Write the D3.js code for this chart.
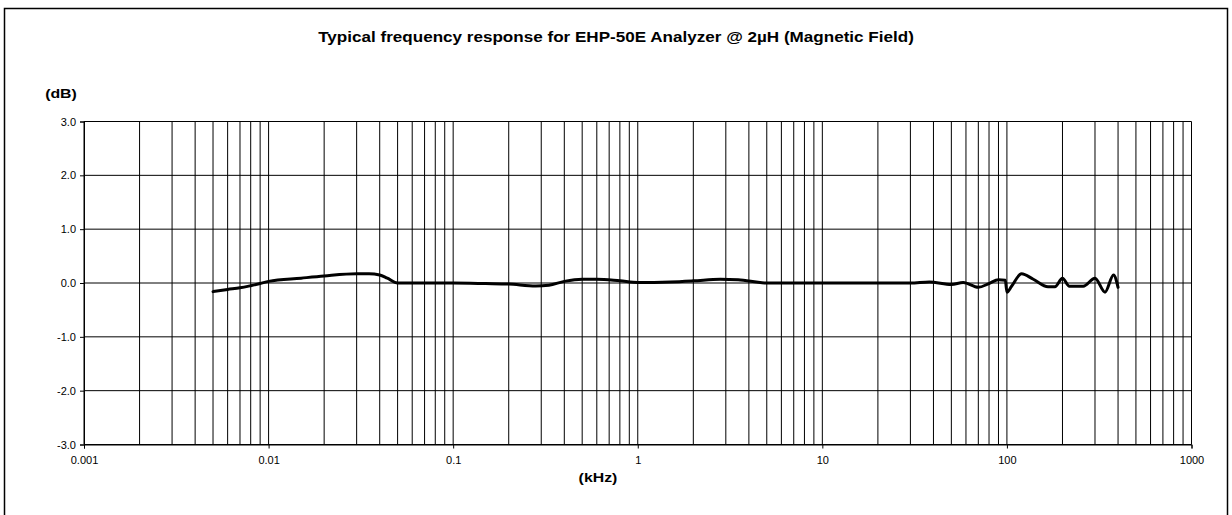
<!DOCTYPE html>
<html>
<head>
<meta charset="utf-8">
<script src="https://cdn.jsdelivr.net/npm/d3@7"></script>
<style>
  html, body { margin: 0; padding: 0; background: #fff; }
  svg { display: block; font-family: "Liberation Sans", Arial, sans-serif; }
</style>
</head>
<body>
<svg id="chart" width="1232" height="515"></svg>
<script>
// Frequency (kHz) and measured response (dB)
const freqKHz = [0.005, 0.006, 0.007, 0.008, 0.009, 0.01, 0.015, 0.02, 0.03, 0.035, 0.04, 0.044, 0.05,
  0.1, 0.15, 0.2, 0.28, 0.33, 0.4, 0.5, 0.6, 0.8, 1, 1.5, 2, 2.8, 3.5, 5,
  10, 20, 30, 38, 50, 58, 70, 80, 90, 98, 100, 106, 120, 139, 167, 182, 200, 218, 259, 300, 340, 378, 400];
const responseDb = [-0.16, -0.12, -0.09, -0.05, -0.01, 0.03, 0.09, 0.13, 0.17, 0.17, 0.15, 0.09, 0.0,
  0.0, -0.01, -0.02, -0.055, -0.04, 0.03, 0.07, 0.07, 0.04, 0.01, 0.02, 0.04, 0.07, 0.06, 0.0,
  0.0, 0.0, 0.0, 0.02, -0.03, 0.01, -0.08, -0.01, 0.06, 0.05, -0.17, -0.06, 0.17, 0.07, -0.07, -0.07, 0.09, -0.06, -0.06, 0.09, -0.17, 0.15, -0.08];

const xTickValues = [0.001, 0.01, 0.1, 1, 10, 100, 1000];
const xTickLabels = ["0.001", "0.01", "0.1", "1", "10", "100", "1000"];
const yTickValues = [-3, -2, -1, 0, 1, 2, 3];
const yTickLabels = ["-3.0", "-2.0", "-1.0", "0.0", "1.0", "2.0", "3.0"];

const titleText = "Typical frequency response for EHP-50E Analyzer @ 2µH (Magnetic Field)";
const yUnitText = "(dB)";
const xUnitText = "(kHz)";

const svg = d3.select("#chart");
const plotLeft = 84, plotRight = 1191.5, plotTop = 121.5, plotBottom = 444.5;

const x = d3.scaleLog().domain([0.001, 1000]).range([plotLeft, plotRight]);
const y = d3.scaleLinear().domain([-3, 3]).range([plotBottom, plotTop]);

// outer frame
svg.append("rect")
  .attr("x", 4.5).attr("y", 8.5)
  .attr("width", 1223).attr("height", 520)
  .attr("fill", "none").attr("stroke", "#000").attr("stroke-width", 1.5);

// bold labels are drawn slightly widened
function wideLabel(cx, cy, size, txt) {
  svg.append("g")
    .attr("transform", `translate(${cx},${cy}) scale(1.22,1)`)
    .append("text")
    .attr("text-anchor", "middle")
    .attr("font-size", size).attr("font-weight", "bold")
    .text(txt);
}

wideLabel(616, 42, 14, titleText);
wideLabel(61, 98, 13, yUnitText);
wideLabel(598, 482, 13, xUnitText);

// vertical grid: every decade plus 2..9 within each decade
const gridFreqs = [];
for (let e = -3; e < 3; e++) {
  for (let m = 1; m <= 9; m++) gridFreqs.push(m * Math.pow(10, e));
}
gridFreqs.push(1000);

const grid = svg.append("g").attr("stroke", "#000").attr("stroke-width", 1);
grid.selectAll("line.v").data(gridFreqs).join("line")
  .attr("class", "v")
  .attr("x1", d => x(d)).attr("x2", d => x(d))
  .attr("y1", plotTop).attr("y2", plotBottom);
grid.selectAll("line.h").data(yTickValues).join("line")
  .attr("class", "h")
  .attr("x1", plotLeft).attr("x2", plotRight)
  .attr("y1", d => y(d)).attr("y2", d => y(d));

// axes
const yAxis = d3.axisLeft(y).tickValues(yTickValues)
  .tickFormat((d, i) => yTickLabels[i]).tickSize(4).tickPadding(4);
const gy = svg.append("g").attr("transform", `translate(${plotLeft},0)`).call(yAxis);
gy.select(".domain").attr("stroke", "#000");
gy.selectAll("text").attr("font-size", 11).attr("font-family", "\"Liberation Sans\", Arial, sans-serif").attr("fill", "#000");

const xAxis = d3.axisBottom(x).tickValues(xTickValues)
  .tickFormat((d, i) => xTickLabels[i]).tickSize(4).tickPadding(8);
const gx = svg.append("g").attr("transform", `translate(0,${plotBottom})`).call(xAxis);
gx.select(".domain").attr("stroke", "#000");
gx.selectAll("text").attr("font-size", 11).attr("font-family", "\"Liberation Sans\", Arial, sans-serif").attr("fill", "#000");

// response curve
const pts = freqKHz.map((f, i) => [f, responseDb[i]]);
const line = d3.line()
  .x(d => x(d[0])).y(d => y(d[1]))
  .curve(d3.curveMonotoneX);
svg.append("path")
  .datum(pts)
  .attr("d", line)
  .attr("fill", "none")
  .attr("stroke", "#000")
  .attr("stroke-width", 3)
  .attr("stroke-linejoin", "round")
  .attr("stroke-linecap", "round");
</script>
</body>
</html>
